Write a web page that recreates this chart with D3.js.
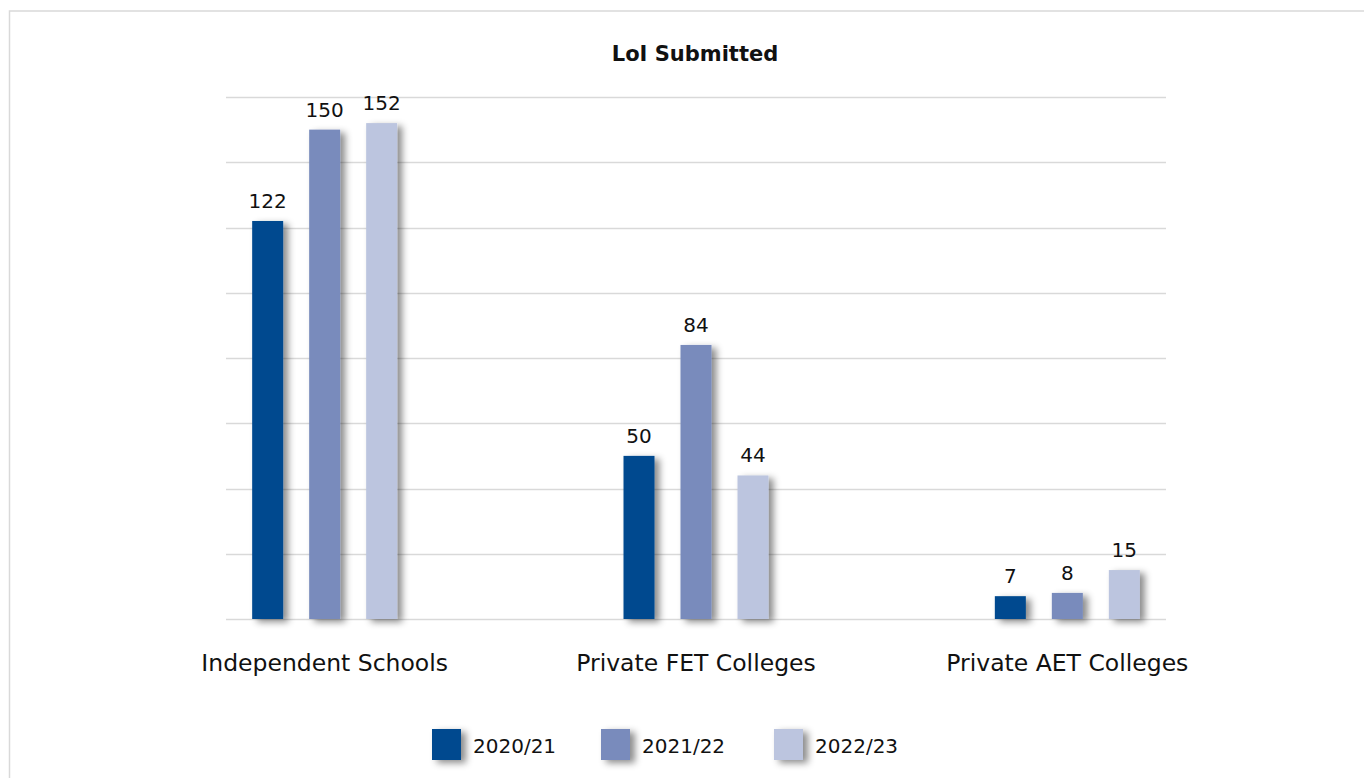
<!DOCTYPE html>
<html>
<head>
<meta charset="utf-8">
<script src="https://cdn.jsdelivr.net/npm/d3@7"></script>
<style>
	body { margin: 0; background: #fff; }
	text { font-family: "Century Gothic", "URW Gothic", "DejaVu Sans", sans-serif; fill: #111; }
</style>
</head>
<body>
<svg id="chart"></svg>
<script>
// data
let categories = ["Independent Schools", "Private FET Colleges", "Private AET Colleges"];
let series = ["2020/21", "2021/22", "2022/23"];
let values2021 = [122, 50, 7];
let values2122 = [150, 84, 8];
let values2223 = [152, 44, 15];
let colors = ["#004a8f", "#798bbc", "#bcc5df"];
let yTicks = [0, 20, 40, 60, 80, 100, 120, 140, 160];

function init() {
	let width = 1364, height = 778;
	let svg = d3.select("svg#chart")
		.attr("width", width)
		.attr("height", height);

	let defs = svg.append("defs");
	let filter = defs.append("filter")
		.attr("id", "shadow")
		.attr("x", "-40%").attr("y", "-30%")
		.attr("width", "200%").attr("height", "170%");
	filter.append("feDropShadow")
		.attr("dx", 5).attr("dy", 3)
		.attr("stdDeviation", 3.5)
		.attr("flood-color", "#000")
		.attr("flood-opacity", 0.45);

	// chart frame (only top + left visible)
	svg.append("rect")
		.attr("x", 9.5).attr("y", 11)
		.attr("width", 1400).attr("height", 800)
		.attr("fill", "none")
		.attr("stroke", "#d9d9d9")
		.attr("stroke-width", 1.5);

	let table = categories.map((c, i) => ({
		cat: c,
		vals: [values2021[i], values2122[i], values2223[i]]
	}));

	let x0 = d3.scaleBand()
		.domain(categories)
		.range([139, 1253])
		.padding(0);

	let groupW = 145;
	let x1 = d3.scaleBand()
		.domain(series)
		.range([0, groupW])
		.paddingInner(0.456)
		.paddingOuter(0);

	let y = d3.scaleLinear()
		.domain([0, 160])
		.range([619, 97]);

	// gridlines
	svg.append("g").selectAll("line")
		.data(yTicks)
		.enter().append("line")
		.attr("x1", 226).attr("x2", 1166)
		.attr("y1", d => Math.round(y(d)) + 0.5)
		.attr("y2", d => Math.round(y(d)) + 0.5)
		.attr("stroke", "#d9d9d9")
		.attr("stroke-width", 1.3);

	svg.append("text")
		.attr("x", 695).attr("y", 61)
		.attr("text-anchor", "middle")
		.style("font-size", "21px")
		.style("font-weight", "bold")
		.text("LoI Submitted");

	let groups = svg.selectAll("g.group")
		.data(table)
		.enter().append("g")
		.attr("class", "group")
		.attr("transform", d => `translate(${x0(d.cat) + x0.bandwidth() / 2 - groupW / 2},0)`);

	groups.selectAll("rect")
		.data(d => d.vals.map((v, i) => ({s: series[i], v: v, i: i})))
		.enter().append("rect")
		.attr("x", d => x1(d.s))
		.attr("y", d => y(d.v))
		.attr("width", x1.bandwidth())
		.attr("height", d => y(0) - y(d.v))
		.attr("fill", d => colors[d.i])
		.attr("filter", "url(#shadow)");

	groups.selectAll("text.val")
		.data(d => d.vals.map((v, i) => ({s: series[i], v: v})))
		.enter().append("text")
		.attr("class", "val")
		.attr("x", d => x1(d.s) + x1.bandwidth() / 2)
		.attr("y", d => y(d.v) - 13)
		.attr("text-anchor", "middle")
		.style("font-size", "20px")
		.text(d => d.v);

	svg.append("g").selectAll("text")
		.data(categories)
		.enter().append("text")
		.attr("x", d => x0(d) + x0.bandwidth() / 2)
		.attr("y", 671)
		.attr("text-anchor", "middle")
		.style("font-size", "23.5px")
		.text(d => d);

	// legend
	let legendX = [432, 601, 774];
	let leg = svg.append("g").selectAll("g")
		.data(series)
		.enter().append("g")
		.attr("transform", (d, i) => `translate(${legendX[i]},729)`);
	leg.append("rect")
		.attr("width", 29).attr("height", 31)
		.attr("fill", (d, i) => colors[i])
		.attr("filter", "url(#shadow)");
	leg.append("text")
		.attr("x", 41).attr("y", 24)
		.style("font-size", "20px")
		.text(d => d);
}

init();
</script>
</body>
</html>
